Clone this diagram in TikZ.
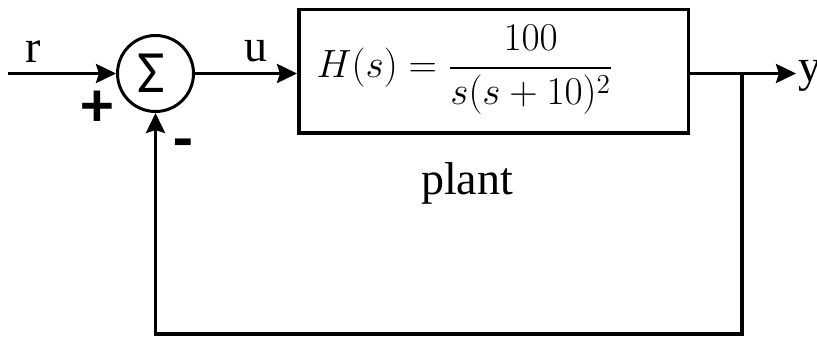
\documentclass[tikz,border=0pt]{standalone}
\usepackage{amsmath}
\usepackage{graphicx}
\usepackage{fontspec}
\setmainfont{Liberation Serif}
\newfontfamily\sumfont{Carlito}
\usetikzlibrary{arrows.meta}
\begin{document}
\begin{tikzpicture}[x=1pt,y=-1pt,
  line width=3.5pt,
  >={Stealth[length=20pt,width=19pt,inset=3pt]},
  lbl/.style={font=\fontsize{46}{46}\selectfont, inner sep=0pt},
  sgn/.style={font=\sumfont\bfseries\fontsize{64}{64}\selectfont, inner sep=0pt},
  sumnode/.style={circle, draw, line width=3pt, minimum size=76pt, inner sep=0pt},
  block/.style={draw, line width=3.5pt, minimum width=389.5pt, minimum height=123.5pt, inner sep=0pt}]
\useasboundingbox (0,0) rectangle (817,339);
% summing junction
\node[sumnode] (sum) at (155.5,73.5) {};
\node[inner sep=0pt, font=\sumfont\fontsize{60}{60}\selectfont] (sigma) at (151,73) {Σ};
% plant block
\node[block] (plant) at (493.5,71.5) {};
\node[inner sep=0pt, font=\fontsize{20}{22}\selectfont] (tf) at (465,70) {\scalebox{1.9}{$H(s) = \dfrac{100}{s(s+10)^2}$}};
\node[lbl, anchor=base] (plantlbl) at (467,195) {plant};
% labels
\node[lbl, anchor=base] (rl) at (33.5,63) {r};
\node[lbl, anchor=base] (ul) at (256,62) {u};
\node[lbl, anchor=base west] (yl) at (797,82) {y};
\node[sgn] (plus) at (97,109) {+};
\node[sgn] (minus) at (183,150) {-};
% coordinates
\coordinate (rin) at (8,73.5);
\coordinate (yend) at (796,73.5);
\coordinate (j) at (742,73.5);
\coordinate (bot) at (742,334);
% connectors
\draw[->] (rin) -- (sum.west);
\draw[->] (sum.east) -- (sum.east -| plant.west);
\draw[->] (sum.east -| plant.east) -- (yend);
\draw[->] (j) -- (bot) -| (sum.south);
\end{tikzpicture}
\end{document}
